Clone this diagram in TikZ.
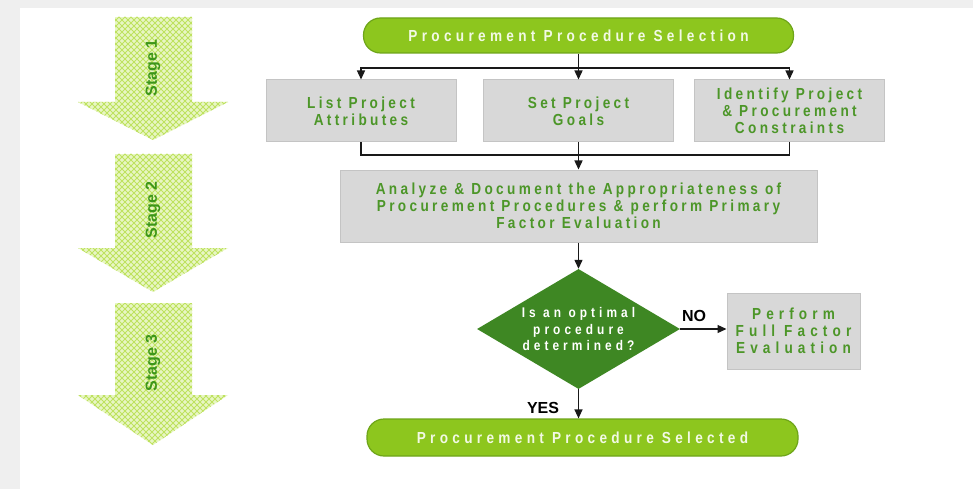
\documentclass[tikz,border=0pt]{standalone}
\usepackage{fontspec}
\setmainfont{Liberation Sans}
\newfontfamily\boxfont[FakeStretch=0.85,LetterSpace=21]{Liberation Sans Bold}
\newfontfamily\widefont[FakeStretch=0.85,LetterSpace=32]{Liberation Sans Bold}
\newfontfamily\diafont[FakeStretch=0.85,LetterSpace=29]{Liberation Sans Bold}
\newfontfamily\pillfont[FakeStretch=0.85,LetterSpace=27]{Liberation Sans Bold}
\newfontfamily\lblfont{Liberation Sans Bold}
\usetikzlibrary{arrows.meta,shapes.geometric}
\definecolor{pagegray}{RGB}{239,239,239}
\definecolor{pillfill}{RGB}{141,198,30}
\definecolor{pilldraw}{RGB}{110,165,25}
\definecolor{pilltext}{RGB}{242,249,228}
\definecolor{boxfill}{RGB}{216,216,216}
\definecolor{boxdraw}{RGB}{196,196,196}
\definecolor{boxtext}{RGB}{76,150,40}
\definecolor{diafill}{RGB}{62,135,35}
\definecolor{stagetext}{RGB}{60,150,25}
\definecolor{meshbg}{RGB}{232,246,196}
\definecolor{meshline}{RGB}{190,226,95}
\definecolor{linec}{RGB}{25,25,25}
\begin{document}
\begin{tikzpicture}[x=1pt,y=-1pt,
  box/.style={draw=boxdraw, line width=1pt, fill=boxfill, text=boxtext,
    font={\boxfont\fontsize{16}{17}\selectfont}, align=center, inner sep=0pt},
  pill/.style={draw=pilldraw, line width=1.2pt, fill=pillfill, text=pilltext,
    rounded corners=17pt, font={\pillfont\fontsize{16}{17}\selectfont}, inner sep=0pt},
  conn/.style={line width=1.3pt, draw=linec},
  arr/.style={conn, -{Triangle[width=8pt,length=9pt]}},
  lbl/.style={font={\lblfont\fontsize{16}{18}\selectfont}, text=black, inner sep=0pt},
  stagelbl/.style={font={\lblfont\fontsize{16}{18}\selectfont}, text=stagetext, rotate=90, inner sep=0pt},
  meshl/.style={draw=meshline, line width=1pt}
]
\useasboundingbox (0,0) rectangle (973,489);
\fill[pagegray] (0,0) rectangle (973,489);
\fill[white] (20,8) rectangle (973,489);

% stage arrows
\foreach \t/\h/\b [count=\i] in {17/102/140, 154/248/292, 303/395/445} {
  \begin{scope}
    \clip (115,\t) -- (192,\t) -- (192,\h) -- (228,\h) -- (153,\b) -- (78,\h) -- (115,\h) -- cycle;
    \fill[meshbg] (70,\t) rectangle (235,\b);
    \foreach \c in {-90,-84,...,240} { \draw[meshl] (\c,\t-5) -- ++(160,160); }
    \foreach \c in {70,76,...,400} { \draw[meshl] (\c,\t-5) -- ++(-160,160); }
  \end{scope}
}
\node[stagelbl] (s1) at (153,68) {Stage 1};
\node[stagelbl] (s2) at (153,210) {Stage 2};
\node[stagelbl] (s3) at (153,363) {Stage 3};

% nodes
\node[pill, minimum width=430, minimum height=35] (p1) at (578.5,35.5) {Procurement Procedure Selection};
\node[box, minimum width=190, minimum height=62] (b1) at (361,111) {List Project\\Attributes};
\node[box, minimum width=190, minimum height=62] (b2) at (578.5,111) {Set Project\\Goals};
\node[box, minimum width=190, minimum height=62] (b3) at (789.5,111) {Identify Project\\\& Procurement\\Constraints};
\node[box, minimum width=477, minimum height=72] (b4) at (578.5,206)
  {Analyze \& Document the Appropriateness of\\Procurement Procedures \& perform Primary\\Factor Evaluation};
\node[diamond, fill=diafill, minimum width=203, minimum height=120, inner sep=0pt] (d) at (578.5,329) {};
\node[text=white, align=center, inner sep=0pt,
  font={\diafont\fontsize{14}{16.5}\selectfont}] (dt) at (d) {Is an optimal\\procedure\\determined?};
\node[box, minimum width=133, minimum height=76, font={\widefont\fontsize{16}{17}\selectfont}] (b5) at (793.5,331) {Perform\\Full Factor\\Evaluation};
\node[pill, minimum width=431, minimum height=37] (p2) at (582.5,437.5) {Procurement Procedure Selected};

% connectors
\coordinate (j1) at (578.5,68);
\coordinate (j2) at (578.5,155);
\draw[arr] (p1) -- (p1 |- b2.north);
\draw[arr] (j1) -| (b1);
\draw[arr] (j1) -| (b3);
\draw[conn] (b1) |- (j2) -| (b3);
\draw[conn] (b2) -- (j2);
\draw[arr] (j2) -- (b4);
\draw[arr] (b4) -- (d);
\draw[arr] (d) -- (d -| b5.west);
\draw[arr] (d) -- (d |- p2.north);
\node[lbl] (no) at (694,316) {NO};
\node[lbl] (yes) at (543,408) {YES};
\end{tikzpicture}
\end{document}
